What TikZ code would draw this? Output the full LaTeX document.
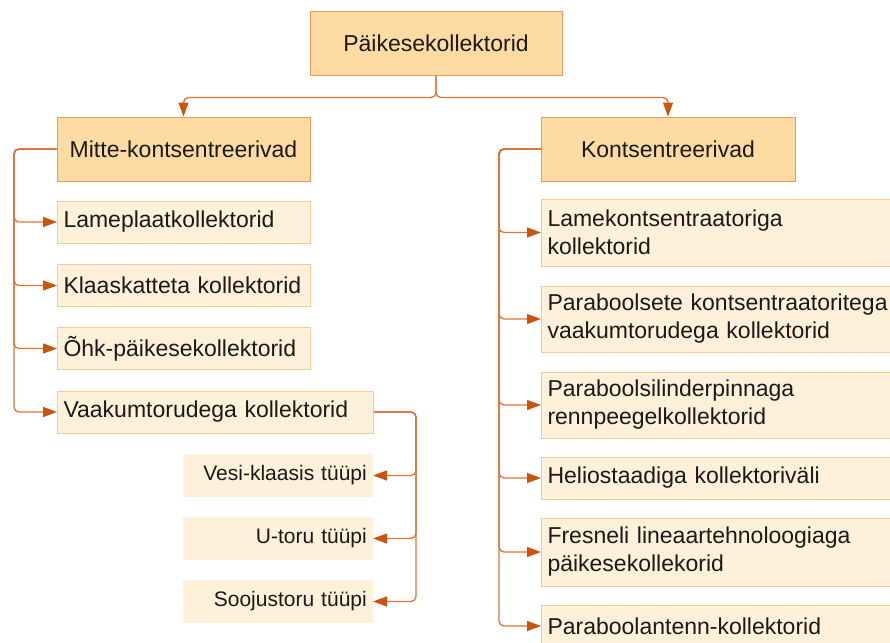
\documentclass[tikz,border=0pt]{standalone}
\usepackage{fontspec}
\setmainfont{Liberation Sans}
\usetikzlibrary{arrows.meta}
\definecolor{ink}{HTML}{1A1A1A}
\definecolor{wire}{HTML}{DD7436}
\definecolor{tipc}{HTML}{C9540A}
\definecolor{topfill}{HTML}{FDDBA2}
\definecolor{topline}{HTML}{EC9A5C}
\definecolor{subfill}{HTML}{FEF0D9}
\definecolor{subline}{HTML}{FAC995}

\begin{document}
\begin{tikzpicture}[x=1pt,y=-1pt,text=ink,
 font=\fontsize{23}{28}\selectfont,
 top/.style={draw=topline,fill=topfill,line width=1pt,minimum height=64pt,inner sep=0pt},
 leaf/.style={draw=subline,fill=subfill,line width=1pt,anchor=west,align=left,inner xsep=6pt,inner ysep=0pt},
 twig/.style={fill=subfill,anchor=east,align=right,text width=178pt,minimum height=43pt,
  inner xsep=6pt,font=\fontsize{21}{25}\selectfont},
 link/.style={draw=wire,line width=1.3pt,rounded corners=5pt,-{Triangle[length=14pt,width=10pt,color=tipc]}}]
\path[use as bounding box] (0,0) rectangle (890,642);
\clip (0,0) rectangle (890,642);
\node[top,minimum width=252pt,minimum height=63pt] (root) at (436,43.5) {Päikesekollektorid};
\node[top,minimum width=253pt] (mitte) at (183.5,149) {Mitte-kontsentreerivad};
\node[top,minimum width=254pt] (konts) at (668,149) {Kontsentreerivad};
\foreach \n/\y/\w/\t in {l1/222/241/Lameplaatkollektorid,l2/285.5/241/Klaaskatteta kollektorid,
 l3/348.5/241/Õhk-päikesekollektorid,l4/412/304/Vaakumtorudega kollektorid}{
 \node[leaf,text width=\w pt,minimum height=42pt] (\n) at (57,\y) {\t};
}
\foreach \n/\y/\h/\t in {r1/232.5/67/{Lamekontsentraatoriga\\kollektorid},
 r2/319/66/{Paraboolsete kontsentraatoritega\\vaakumtorudega kollektorid},
 r3/405/66/{Paraboolsilinderpinnaga\\rennpeegelkollektorid},
 r4/478/42/{Heliostaadiga kollektoriväli},
 r5/552/68/{Fresneli lineaartehnoloogiaga\\päikesekollekorid},
 r6/626/42/{Paraboolantenn-kollektorid}}{
 \node[leaf,text width=408pt,minimum height=\h pt] (\n) at (541,\y) {\t};
}
\foreach \n/\y/\t in {s1/475.5/Vesi-klaasis tüüpi,s2/538.5/U-toru tüüpi,s3/601.5/Soojustoru tüüpi}{
 \node[twig] (\n) at (373,\y) {\t};
}
\draw[link] (root.south) -- ++(0,22) -| (mitte.north);
\draw[link] (root.south) -- ++(0,22) -| (konts.north);
\coordinate (lrail) at (14,149);
\coordinate (rrail) at (499,149);
\coordinate (vrail) at (416,412);
\foreach \n in {l1,l2,l3,l4}{\draw[link] (mitte.west) -- (lrail) |- (\n.west);}
\foreach \n in {r1,r2,r3,r4,r5,r6}{\draw[link] (konts.west) -- (rrail) |- (\n.west);}
\foreach \n in {s1,s2,s3}{\draw[link] (l4.east) -- (vrail) |- (\n.east);}
\end{tikzpicture}
\end{document}
